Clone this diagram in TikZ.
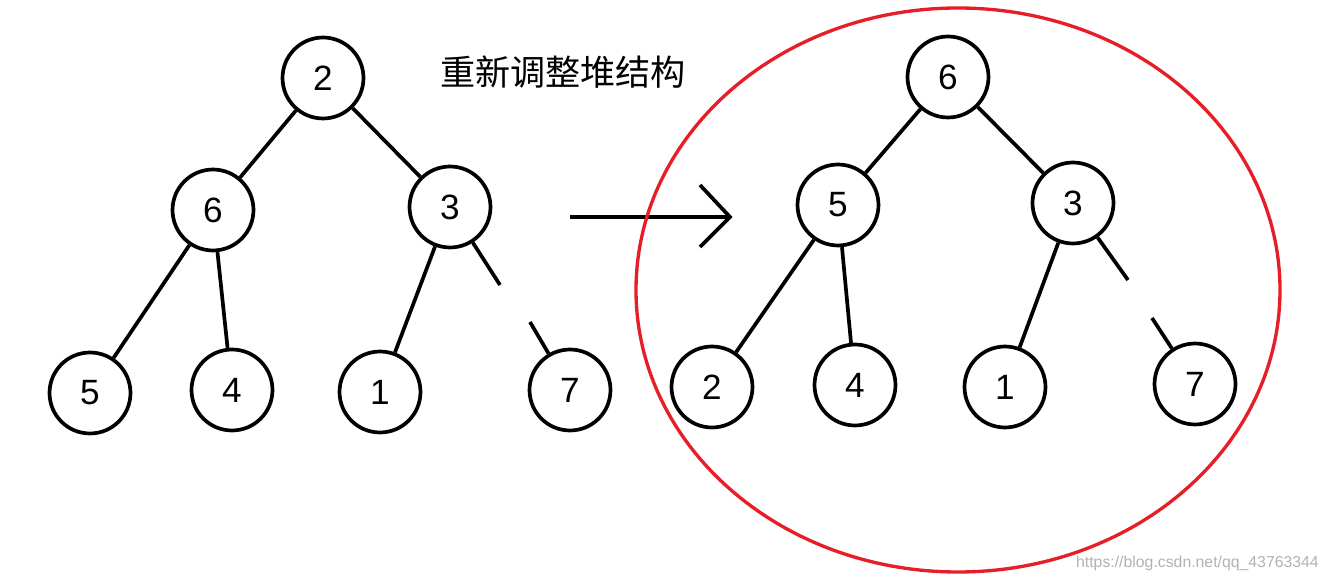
\documentclass[tikz,border=0pt]{standalone}
\usepackage{fontspec}
\setmainfont{Liberation Sans}
\newfontfamily\cjk{Noto Sans CJK SC}
\usetikzlibrary{calc}
\definecolor{ringred}{RGB}{230,30,40}
\begin{document}
\begin{tikzpicture}[x=0.02cm,y=-0.02cm,
  hn/.style={circle,draw,line width=2.1pt,minimum size=1.62cm,inner sep=0pt,font=\fontsize{20}{20}\selectfont},
  ed/.style={line width=2.1pt}]
\useasboundingbox (0,0) rectangle (1329,580);
% left tree
\node[hn] (a2) at (323,78) {2};
\node[hn] (a6) at (213,210) {6};
\node[hn] (a3) at (450,207) {3};
\node[hn] (a5) at (90,393) {5};
\node[hn] (a4) at (232,390) {4};
\node[hn] (a1) at (380,392) {1};
\node[hn] (a7) at (570,390) {7};
\coordinate (ag1) at (500,285);
\coordinate (ag2) at (530,322);
\draw[ed] (a2)--(a6) (a2)--(a3) (a6)--(a5) (a6)--(a4) (a3)--(a1) (a3)--(ag1) (ag2)--(a7);
% arrow
\coordinate (ar1) at (570,217);
\coordinate (ar2) at (730,217);
\coordinate (ah1) at (700,185);
\coordinate (ah2) at (700,247);
\draw[ed] (ar1)--(ar2) (ah1)--(ar2)--(ah2);
\node[font=\cjk\fontsize{20}{20}\selectfont] (t) at (563,72) {重新调整堆结构};
% right tree
\node[hn] (b6) at (948,77) {6};
\node[hn] (b5) at (838,205) {5};
\node[hn] (b3) at (1073,203) {3};
\node[hn] (b2) at (712,387) {2};
\node[hn] (b4) at (855,385) {4};
\node[hn] (b1) at (1005,387) {1};
\node[hn] (b7) at (1195,384) {7};
\coordinate (bg1) at (1128,280);
\coordinate (bg2) at (1152,318);
\draw[ed] (b6)--(b5) (b6)--(b3) (b5)--(b2) (b5)--(b4) (b3)--(b1) (b3)--(bg1) (bg2)--(b7);
\draw[line width=1.9pt,ringred] (958,290) ellipse [x radius=322, y radius=282];
\node[text=gray!60,font=\fontsize{9}{9}\selectfont,anchor=east] (w) at (1325,563) {https://blog.csdn.net/qq\_43763344};
\end{tikzpicture}
\end{document}
